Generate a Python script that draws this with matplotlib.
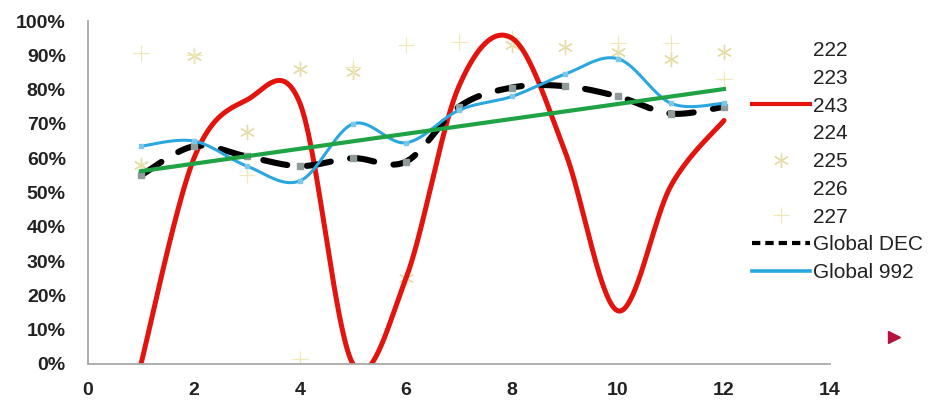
import numpy as np
import matplotlib.pyplot as plt
from matplotlib.lines import Line2D

plt.rcParams['font.family'] = ['Liberation Sans', 'DejaVu Sans']

# monthly points
x = np.arange(1, 13)
s243 = [0.00, 0.60, 0.77, 0.76, 0.00, 0.25, 0.81, 0.95, 0.62, 0.155, 0.52, 0.71]
global_dec = [0.55, 0.635, 0.605, 0.577, 0.60, 0.59, 0.75, 0.806, 0.81, 0.78, 0.73, 0.75]
global_992 = [0.635, 0.65, 0.577, 0.534, 0.70, 0.645, 0.74, 0.78, 0.845, 0.89, 0.76, 0.76]
s225 = [0.58, 0.898, 0.676, 0.86, 0.85, 0.25, np.nan, 0.93, 0.924, 0.91, 0.89, 0.91]
s227 = [0.907, 0.90, 0.55, 0.015, 0.865, 0.93, 0.94, 0.95, np.nan, 0.935, 0.936, 0.83]
legend_labels = ['222', '223', '243', '224', '225', '226', '227', 'Global DEC', 'Global 992']


def smooth(xs, ys, n=40):
    # Catmull-Rom curve through the points, like a spreadsheet "smoothed line"
    p = np.column_stack([xs, ys]).astype(float)
    p = np.vstack([p[0], p, p[-1]])
    out = []
    t = np.linspace(0, 1, n)[:, None]
    for i in range(1, len(p) - 2):
        p0, p1, p2, p3 = p[i - 1], p[i], p[i + 1], p[i + 2]
        seg = 0.5 * ((2 * p1) + (-p0 + p2) * t + (2 * p0 - 5 * p1 + 4 * p2 - p3) * t ** 2
                     + (-p0 + 3 * p1 - 3 * p2 + p3) * t ** 3)
        out.append(seg if i == 1 else seg[1:])
    out = np.vstack(out)
    return out[:, 0], out[:, 1]


star_color = '#e6deaa'
plus_color = '#f0e8b8'

fig = plt.figure(figsize=(9.29, 4.0), dpi=100)
ax = fig.add_axes([0.0947, 0.09, 0.7987, 0.8575])

# scatter series
ax.plot(x, s225, linestyle='none', marker=(6, 2, 0), markersize=11, mew=1.0,
        color=star_color, zorder=1)
ax.plot(x, s227, linestyle='none', marker='+', markersize=12, mew=0.9,
        color=plus_color, zorder=1)

# smoothed lines
rx, ry = smooth(x, s243)
ax.plot(rx, ry, color='#e3140d', lw=3.6, solid_capstyle='round', zorder=2)

dx, dy = smooth(x, global_dec)
ax.plot(dx, dy, color='black', lw=4.4, linestyle=(0, (4.0, 3.2)),
        dash_capstyle='round', zorder=3)
ax.plot(x, global_dec, linestyle='none', marker='s', markersize=4.5,
        color='#8f9b9b', zorder=4)

bx, by = smooth(x, global_992)
ax.plot(bx, by, color='#2aa7df', lw=2.2, zorder=4)
ax.plot(x, global_992, linestyle='none', marker='s', markersize=2.5,
        color='#7cc6ea', zorder=4)

# linear trend of Global DEC
k, b = np.polyfit(x, global_dec, 1)
ax.plot([x[0], x[-1]], [k * x[0] + b, k * x[-1] + b], color='#1fa345', lw=3.0, zorder=5)

ax.set_xlim(0, 14)
ax.set_ylim(0, 1)
ax.set_xticks(range(0, 15, 2))
ax.set_yticks(np.arange(0, 1.01, 0.1))
ax.set_yticklabels([f'{int(round(v * 100))}%' for v in np.arange(0, 1.01, 0.1)])
ax.tick_params(length=0, labelsize=14)
ax.tick_params(axis='y', pad=16)
ax.tick_params(axis='x', pad=13)
for lab in ax.get_xticklabels() + ax.get_yticklabels():
    lab.set_fontweight('bold')
    lab.set_color('#222222')
for side in ['top', 'right']:
    ax.spines[side].set_visible(False)
for side in ['left', 'bottom']:
    ax.spines[side].set_color('#a8a8a8')
    ax.spines[side].set_linewidth(1.3)

# legend
blank = Line2D([], [], linestyle='none')
handles = [
    blank, blank,
    Line2D([], [], color='#e3140d', lw=3.0),
    blank,
    Line2D([], [], linestyle='none', marker=(6, 2, 0), markersize=11, mew=1.0, color=star_color),
    blank,
    Line2D([], [], linestyle='none', marker='+', markersize=12, mew=0.9, color=plus_color),
    Line2D([], [], color='black', lw=3.0, linestyle=(0, (2.0, 1.2))),
    Line2D([], [], color='#2aa7df', lw=2.6),
]
fig.legend(handles, legend_labels, loc='upper left', bbox_to_anchor=(0.80, 0.918),
           frameon=False, fontsize=15, handlelength=2.8, handletextpad=0.15,
           labelspacing=0.42, labelcolor='#222222', borderaxespad=0)

fig.add_artist(Line2D([0.962], [0.157], marker='>', markersize=9, color='#b5133d',
                      linestyle='none', transform=fig.transFigure))

fig.savefig('out.png', dpi=100)
